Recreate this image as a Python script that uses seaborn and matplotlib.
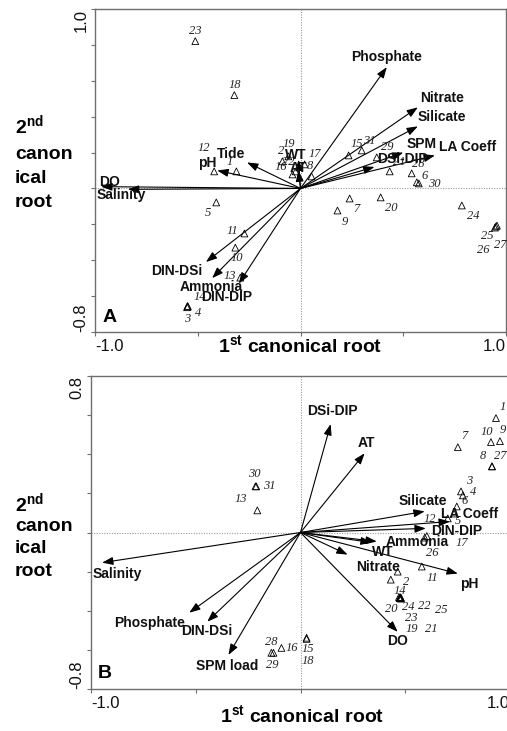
import matplotlib
matplotlib.use("Agg")
import matplotlib.pyplot as plt
import seaborn as sns
import pandas as pd
from matplotlib.ticker import FixedLocator

# ---------------- data: panel A ----------------
a_ids = [str(i) for i in range(1, 32)]
a_x = [-0.312, -0.088, -0.552, -0.548, -0.410, 0.566, 0.239, 0.054, 0.180, -0.317,
       -0.273, -0.420, -0.293, -0.550, 0.234, -0.039, 0.020, -0.322, -0.059, 0.390,
       0.434, -0.024, -0.512, 0.785, 0.951, 0.946, 0.956, 0.541, 0.371, 0.576, 0.298]
a_y = [0.095, 0.151, -0.662, -0.658, -0.078, 0.034, -0.056, 0.067, -0.123, -0.330,
       -0.251, 0.095, -0.497, -0.655, 0.184, 0.078, 0.134, 0.520, 0.179, -0.050,
       0.095, 0.095, 0.821, -0.095, -0.212, -0.218, -0.207, 0.084, 0.173, 0.028, 0.212]
a_vars = ["Phosphate", "Nitrate", "Silicate", "SPM", "LA Coeff", "DSi-DIP", "WT", "AT",
          "Tide", "pH", "DO", "Salinity", "DIN-DSi", "Ammonia", "DIN-DIP"]
a_vx = [0.420, 0.571, 0.571, 0.500, 0.654, 0.360, -0.010, -0.010,
        -0.260, -0.405, -0.970, -0.840, -0.460, -0.430, -0.300]
a_vy = [0.676, 0.452, 0.346, 0.200, 0.184, 0.120, 0.160, 0.100,
        0.145, 0.100, 0.010, -0.005, -0.410, -0.500, -0.530]

# ---------------- data: panel B ----------------
b_ids = [str(i) for i in range(1, 32)]
b_x = [0.933, 0.431, 0.766, 0.775, 0.732, 0.746, 0.751, 0.914, 0.952, 0.909,
       0.579, 0.703, -0.206, 0.474, 0.029, -0.091, 0.603, 0.029, 0.476, 0.470,
       0.479, 0.464, 0.473, 0.477, 0.480, 0.593, 0.914, -0.139, -0.129, -0.215, -0.211]
b_y = [0.585, -0.241, 0.210, 0.190, 0.097, 0.133, 0.436, 0.338, 0.467, 0.462,
       -0.174, 0.072, 0.113, -0.333, -0.538, -0.590, -0.018, -0.544, -0.336, -0.330,
       -0.338, -0.200, -0.335, -0.331, -0.334, -0.026, 0.338, -0.615, -0.615, 0.236, 0.236]
b_vars = ["DSi-DIP", "AT", "Silicate", "LA Coeff", "DIN-DIP", "Ammonia", "WT", "Nitrate",
          "pH", "DO", "Salinity", "Phosphate", "DIN-DSi", "SPM load"]
b_vx = [0.144, 0.306, 0.593, 0.713, 0.598, 0.364, 0.340, 0.225,
        0.751, 0.464, -0.947, -0.531, -0.445, -0.344]
b_vy = [0.554, 0.405, 0.108, 0.056, 0.021, -0.046, -0.051, -0.113,
        -0.210, -0.508, -0.154, -0.410, -0.456, -0.626]

x_ticks = [-1.0, -0.5, 0.0, 0.5, 1.0]
a_y_ticks = [-0.8, -0.6, -0.4, -0.2, 0.0, 0.2, 0.4, 0.6, 0.8, 1.0]
b_y_ticks = [-0.8, -0.6, -0.4, -0.2, 0.0, 0.2, 0.4, 0.6, 0.8]

# ---------------- layout (label offsets in pixels: dx right, dy down) ----------------
a_pt_off = [(-7, -9), (-1, -10), (0, 12), (10, 6), (-8, 11), (8, -6), (7, 11), (-2, -10),
            (7, 11), (1, 10), (-12, -2), (-10, -23), (-10, -2), (12, -9), (8, -11),
            (-12, -7), (10, -10), (0, -10), (0, -12), (11, 11), (10, -9), (-7, -9),
            (0, -10), (11, 11), (-9, 10), (-12, 22), (3, 19), (7, -9), (11, -10),
            (15, 1), (8, -9)]
a_var_off = [(0, -10), (24, -9), (24, -9), (18, -9), (33, -8), (28, -8), (-3, -5), (0, -3),
             (-16, -8), (-10, -8), (8, -5), (-7, 6), (-29, 9), (-1, 9), (-12, 13)]
b_pt_off = [(7, -11), (15, 2), (8, -10), (10, -3), (4, 7), (8, -5), (7, -11), (-9, -10),
            (3, -11), (-4, -10), (11, 11), (-18, 1), (-17, -11), (0, -7), (1, 11),
            (10, 0), (35, 7), (1, 22), (12, 31), (-8, 12), (30, 30), (27, 34), (12, 20),
            (8, 10), (40, 12), (8, 15), (8, -10), (0, -11), (-1, 12), (-1, -12), (13, 0)]
b_var_off = [(2, -13), (2, -10), (-2, -10), (20, -8), (31, 3), (40, 1), (11, 10), (30, 12),
             (11, 10), (0, 9), (15, 11), (-40, 10), (-1, 9), (-1, 11)]

sns.set_theme(style="white")
plt.rcParams["font.family"] = ["Liberation Sans", "DejaVu Sans"]
plt.rcParams["mathtext.fontset"] = "custom"
plt.rcParams["mathtext.rm"] = "Liberation Sans"
plt.rcParams["mathtext.bf"] = "Liberation Sans:bold"

W, H = 507, 731
fig = plt.figure(figsize=(W / 100, H / 100), dpi=100)


def fx(px):
    return px / W


def fy(py):
    return 1 - py / H


SPINE = "#6e6e6e"


def draw_panel(rect, ylim, yticks, ids, xs, ys, poff, vars_, vx, vy, voff):
    ax = fig.add_axes(rect)
    ax.set_xlim(-1.0, 1.0)
    ax.set_ylim(*ylim)
    ax.axhline(0, color="#9a9a9a", lw=0.8, ls=(0, (1, 1.3)), zorder=0)
    ax.axvline(0, color="#9a9a9a", lw=0.8, ls=(0, (1, 1.3)), zorder=0)
    df = pd.DataFrame({"x": xs, "y": ys, "id": ids})
    sns.scatterplot(data=df, x="x", y="y", marker="^", s=24, color="none",
                    edgecolor="black", linewidth=0.6, ax=ax, zorder=3)
    for i, (x, y) in enumerate(zip(xs, ys)):
        dx, dy = poff[i]
        ax.annotate(ids[i], (x, y), xytext=(dx, -dy), textcoords="offset pixels",
                    ha="center", va="center", fontsize=9, style="italic",
                    family=["Liberation Serif", "DejaVu Serif"], color="#222222", zorder=4)
    for i, name in enumerate(vars_):
        ax.annotate("", xy=(vx[i], vy[i]), xytext=(0, 0),
                    arrowprops=dict(arrowstyle="-|>,head_length=0.55,head_width=0.2",
                                    lw=0.8, color="black", mutation_scale=12,
                                    shrinkA=0, shrinkB=0), zorder=2)
        dx, dy = voff[i]
        ax.annotate(name, (vx[i], vy[i]), xytext=(dx, -dy), textcoords="offset pixels",
                    ha="center", va="center", fontsize=10, fontweight="bold",
                    color="#111111", zorder=5)
    for sp in ax.spines.values():
        sp.set_color(SPINE)
        sp.set_linewidth(1.0)
    ax.xaxis.set_major_locator(FixedLocator(x_ticks))
    ax.yaxis.set_major_locator(FixedLocator(yticks))
    ax.set_xticklabels(["-1.0", "", "", "", "1.0"])
    ylabs = [""] * len(yticks)
    ylabs[0] = "%.1f" % yticks[0]
    ylabs[-1] = "%.1f" % yticks[-1]
    ax.set_yticklabels(ylabs, rotation=90)
    ax.tick_params(axis="both", which="major", direction="out", length=3, width=0.8,
                   color=SPINE, labelsize=12, labelcolor="#111111", left=True, bottom=True)
    ax.tick_params(axis="x", pad=2)
    ax.tick_params(axis="y", pad=1.5)
    xl = ax.get_xticklabels()
    xl[0].set_ha("left")
    xl[-1].set_ha("right")
    yl = ax.get_yticklabels()
    yl[0].set_va("bottom")
    yl[-1].set_va("top")
    ax.set_xlabel("")
    ax.set_ylabel("")
    return ax


axA = draw_panel([fx(95), fy(332), fx(506) - fx(95), fy(9) - fy(332)], (-0.8, 1.0), a_y_ticks,
                 a_ids, a_x, a_y, a_pt_off, a_vars, a_vx, a_vy, a_var_off)
axB = draw_panel([fx(91), fy(689), fx(510) - fx(91), fy(376) - fy(689)], (-0.8, 0.8), b_y_ticks,
                 b_ids, b_x, b_y, b_pt_off, b_vars, b_vx, b_vy, b_var_off)

ylab_lines = [r"2$^{\mathbf{nd}}$", "canon", "ical", "root"]
for lines_y in ([134, 159, 183, 207], [512, 531, 553, 576]):
    for t, yb in zip(ylab_lines, lines_y):
        fig.text(fx(15), fy(yb), t, ha="left", va="baseline", fontsize=14,
                 fontweight="bold", color="black")

xlab = r"1$^{\mathbf{st}}$ canonical root"
fig.text(fx(300), fy(353), xlab, ha="center", va="baseline", fontsize=14,
         fontweight="bold", color="black")
fig.text(fx(302), fy(723), xlab, ha="center", va="baseline", fontsize=14,
         fontweight="bold", color="black")

fig.text(fx(110), fy(322), "A", ha="center", va="baseline", fontsize=14,
         fontweight="bold", color="black")
fig.text(fx(105), fy(678), "B", ha="center", va="baseline", fontsize=14,
         fontweight="bold", color="black")

fig.savefig("out.png", dpi=100)
